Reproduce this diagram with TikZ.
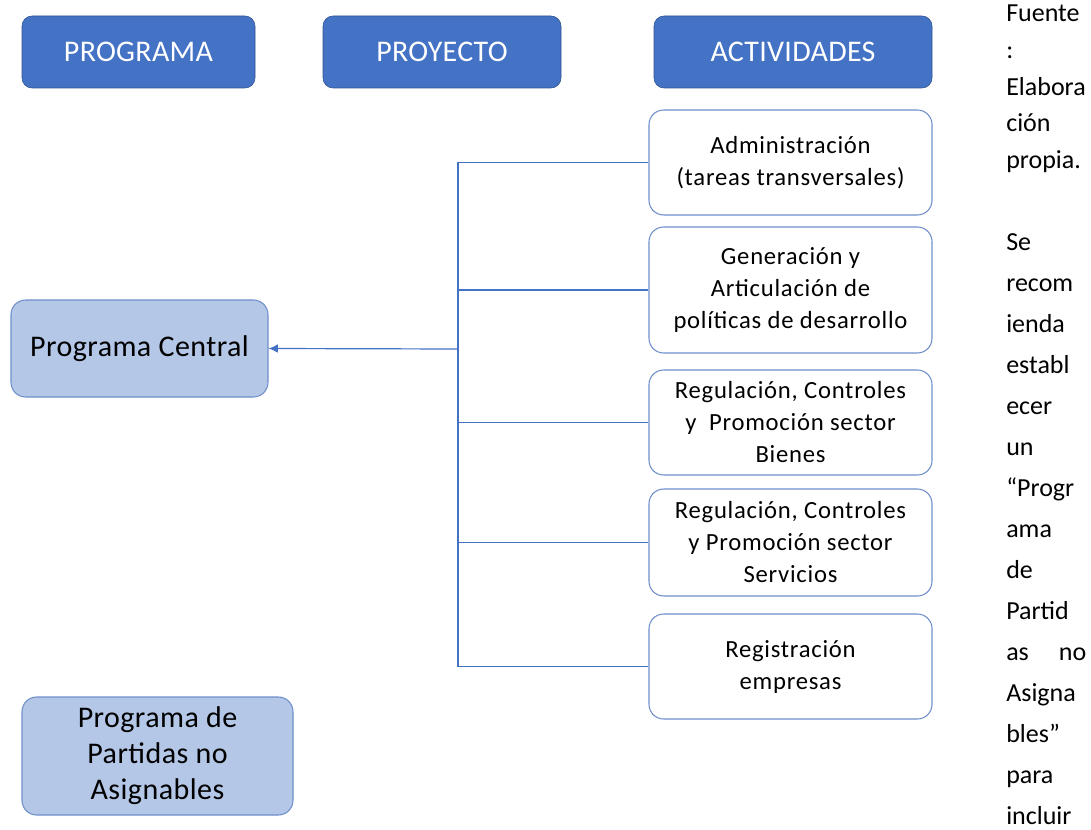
\documentclass[tikz,border=0pt]{standalone}
\usepackage{fontspec}
\setmainfont{Carlito}
\usetikzlibrary{arrows.meta}
\definecolor{HeadBlue}{HTML}{4472C4}
\definecolor{HeadEdge}{HTML}{2F528F}
\definecolor{SoftBlue}{HTML}{B4C7E7}
\definecolor{EdgeBlue}{HTML}{6F8FCB}
\definecolor{LineBlue}{HTML}{4472C4}

\begin{document}
\begin{tikzpicture}[x=0.75pt,y=-0.75pt,
    header/.style={draw=HeadEdge,fill=HeadBlue,text=white,rounded corners=7.5pt,minimum height=54pt,inner sep=0pt,font=\fontsize{22.5}{27}\selectfont\addfontfeature{LetterSpace=1}},
    prog/.style={draw=EdgeBlue,line width=0.8pt,fill=SoftBlue,rounded corners=11pt,align=center,inner sep=0pt,font=\fontsize{22.5}{27}\selectfont\addfontfeature{LetterSpace=1.5}},
    activity/.style={draw=EdgeBlue,line width=0.8pt,fill=white,rounded corners=11pt,minimum width=212.25pt,minimum height=78.75pt,align=center,inner sep=0pt,font=\fontsize{18.5}{24}\selectfont\addfontfeature{LetterSpace=3}},
    link/.style={draw=LineBlue,line width=0.9pt},
    note/.style={anchor=north west,inner sep=0pt,text width=60pt,align=left,font=\fontsize{19.5}{30.75}\selectfont}
  ]
    \useasboundingbox (0,0) rectangle (1091,830);
    % column headers
    \node[header,minimum width=174.75pt] (hprog) at (138.5,52) {PROGRAMA};
    \node[header,minimum width=178.5pt] (hproy) at (442,52) {PROYECTO};
    \node[header,minimum width=208.5pt] (hact) at (793,52) {ACTIVIDADES};
    % programs
    \node[prog,minimum width=192.75pt,minimum height=72.75pt] (central) at (139.5,348.5) {Programa Central};
    \node[prog,minimum width=203.25pt,minimum height=88.5pt] (partidas) at (157.5,756) {Programa de\\Partidas no\\Asignables};
    % activities
    \node[activity] (adm) at (790.5,162.5) {Administración\\(tareas transversales)};
    \node[activity,minimum height=94.5pt] (gen) at (790.5,290) {Generación y\\Articulación de\\políticas de desarrollo};
    \node[activity] (bienes) at (790.5,422.5) {Regulación, Controles\\y~ Promoción sector\\Bienes};
    \node[activity,minimum height=80.25pt] (serv) at (790.5,542.5) {Regulación, Controles\\y Promoción sector\\Servicios};
    \node[activity] (reg) at (790.5,666.5) {Registración\\empresas};
    % connectors
    \coordinate (bus) at (458,349);
    \draw[link] (adm.west) -| (bus);
    \draw[link] (reg.west) -| (bus);
    \draw[link] (gen.west) -- (gen.west -| bus);
    \draw[link] (bienes.west) -- (bienes.west -| bus);
    \draw[link] (serv.west) -- (serv.west -| bus);
    \draw[link,-{Latex[length=7pt,width=6.5pt]}] (bus) -- (central.east);
    % side text
    \node[note,font=\fontsize{19.5}{27.5}\selectfont] (fuente) at (1006,5) {Fuente\\:\\Elabora\\ción\\propia.};
    \node[note] (recom) at (1006,233) {Se\\recom\\ienda\\establ\\ecer\\un\\“Progr\\ama\\de\\Partid\\as\hfill no\\Asigna\\bles”\\para\\incluir};
\end{tikzpicture}
\end{document}
